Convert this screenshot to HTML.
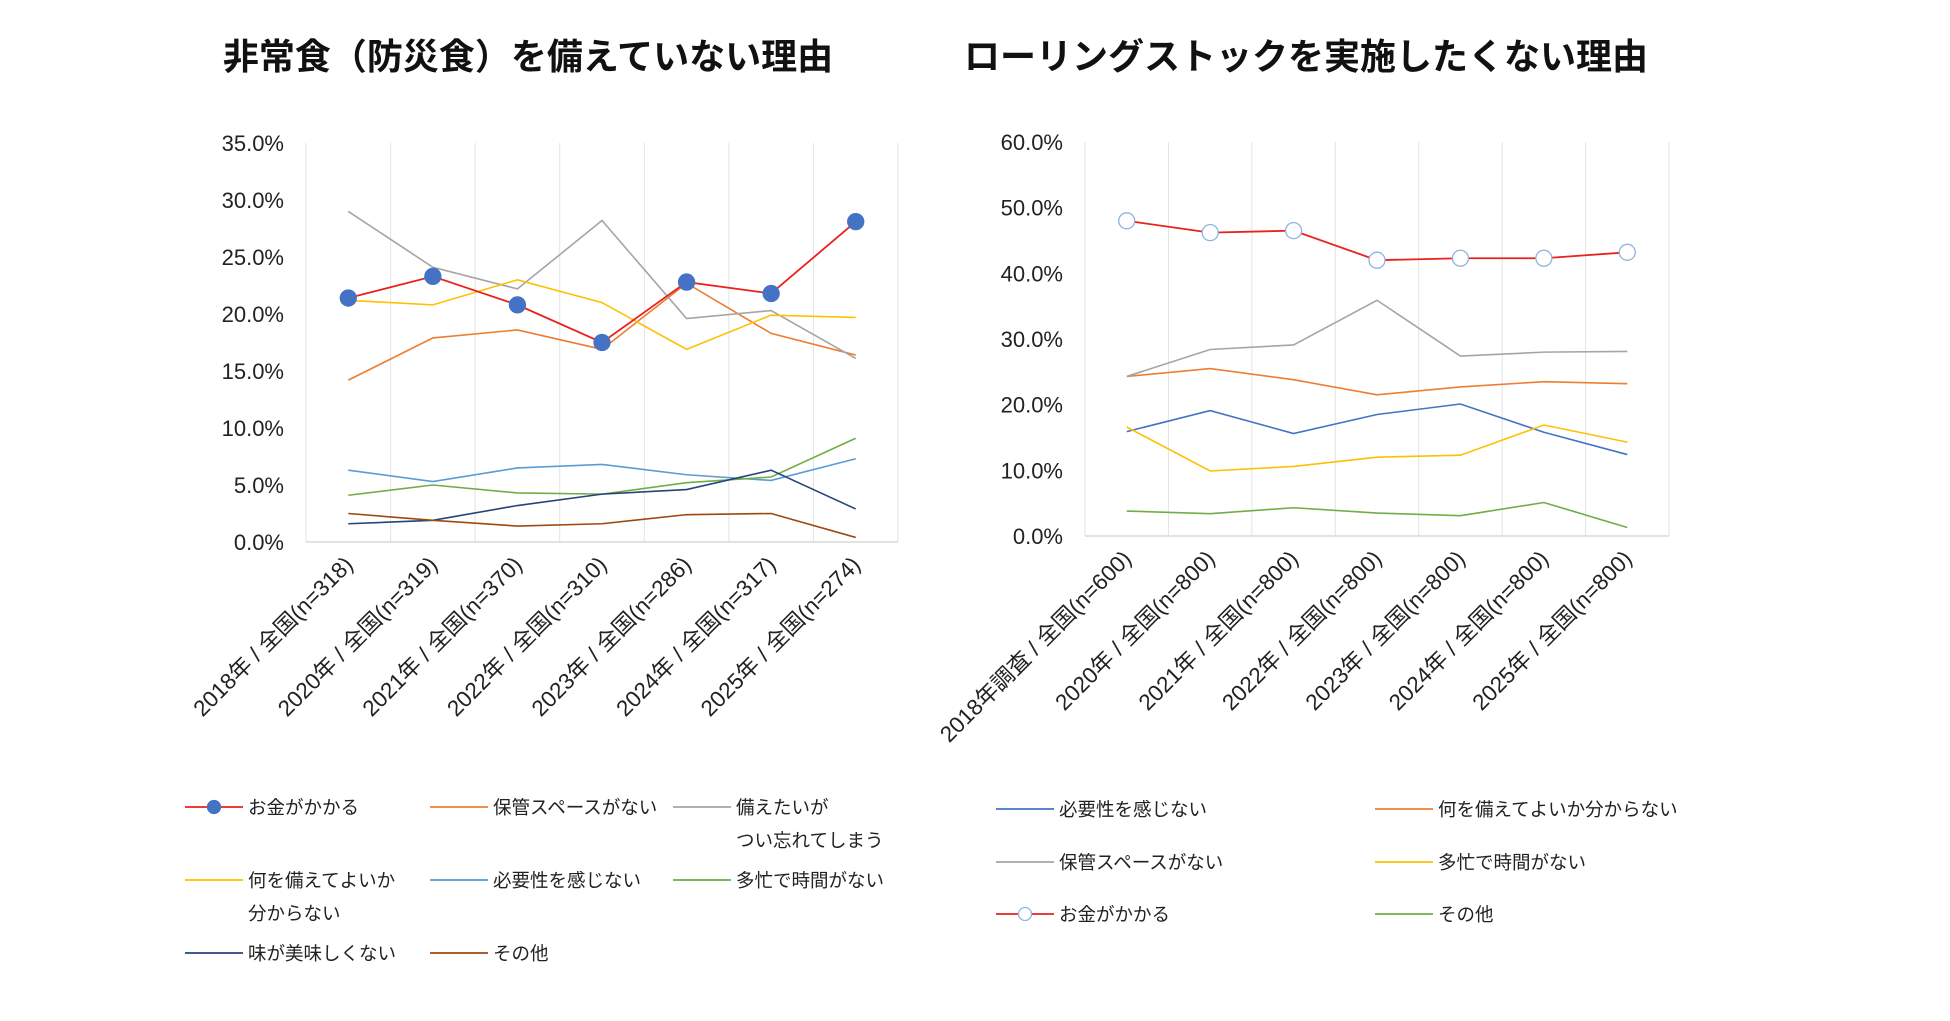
<!DOCTYPE html>
<html><head><meta charset="utf-8"><style>
body{margin:0;background:#fff;}
svg{display:block;font-family:"Liberation Sans","Noto Sans CJK JP",sans-serif;}
</style></head><body>
<svg id="s" width="1950" height="1021" viewBox="0 0 1950 1021">
<text x="528" y="69" text-anchor="middle" font-size="36" font-weight="bold" fill="#111">非常食（防災食）を備えていない理由</text>
<text x="1306" y="69" text-anchor="middle" font-size="36" font-weight="bold" fill="#111">ローリングストックを実施したくない理由</text>
<g id="L"></g>
<g id="R"></g>
</svg>
<script>
const leftCats=["2018年 / 全国(n=318)","2020年 / 全国(n=319)","2021年 / 全国(n=370)","2022年 / 全国(n=310)","2023年 / 全国(n=286)","2024年 / 全国(n=317)","2025年 / 全国(n=274)"];
const leftTicks=["0.0%","5.0%","10.0%","15.0%","20.0%","25.0%","30.0%","35.0%"];
const lOkane=[21.4,23.3,20.8,17.5,22.8,21.8,28.1];
const lHokan=[14.2,17.9,18.6,16.9,22.7,18.3,16.4];
const lWasure=[29.0,24.1,22.2,28.2,19.6,20.3,16.1];
const lNani=[21.2,20.8,23.0,21.0,16.9,19.9,19.7];
const lHitsuyo=[6.3,5.3,6.5,6.8,5.9,5.4,7.3];
const lTabo=[4.1,5.0,4.3,4.2,5.2,5.7,9.1];
const lAji=[1.6,1.9,3.2,4.2,4.6,6.3,2.9];
const lOther=[2.5,1.9,1.4,1.6,2.4,2.5,0.4];

const rightCats=["2018年調査 / 全国(n=600)","2020年 / 全国(n=800)","2021年 / 全国(n=800)","2022年 / 全国(n=800)","2023年 / 全国(n=800)","2024年 / 全国(n=800)","2025年 / 全国(n=800)"];
const rightTicks=["0.0%","10.0%","20.0%","30.0%","40.0%","50.0%","60.0%"];
const rHitsuyo=[15.9,19.1,15.6,18.5,20.1,15.8,12.4];
const rNani=[24.3,25.5,23.8,21.5,22.7,23.5,23.2];
const rHokan=[24.3,28.4,29.1,35.9,27.4,28.0,28.1];
const rTabo=[16.6,9.9,10.6,12.0,12.3,16.9,14.3];
const rOkane=[48.0,46.2,46.5,42.0,42.3,42.3,43.2];
const rOther=[3.8,3.4,4.3,3.5,3.1,5.1,1.3];

const NS="http://www.w3.org/2000/svg";
function mk(p,t,a){const e=document.createElementNS(NS,t);for(const k in a)e.setAttribute(k,a[k]);p.appendChild(e);return e;}

function chart(g,o){
  const {x0,x1,y0,y1,max,cats,ticks,series,legend}=o;
  const bw=(x1-x0)/cats.length;
  const X=i=>x0+bw*(i+0.5);
  const Y=v=>y0-(v/max)*(y0-y1);
  for(let i=0;i<=cats.length;i++){
    const gl=mk(g,'line',{x1:x0+bw*i,x2:x0+bw*i,y1:y1,y2:y0,stroke:'#e3e3e3','stroke-width':1});
    
    
  }
  const ax=mk(g,'line',{x1:x0,x2:x1,y1:y0,y2:y0,stroke:'#d9d9d9','stroke-width':1.5});
  
  
  ticks.forEach((t,i)=>{
    const v=max*i/(ticks.length-1);
    const tx=mk(g,'text',{x:x0-22,y:Y(v)+8,'text-anchor':'end','font-size':22,fill:'#222'});
    tx.textContent=t;
    
    
  });
  cats.forEach((c,i)=>{
    const cx=X(i)+6, cy=y0+24;
    const tx=mk(g,'text',{x:cx,y:cy,'text-anchor':'end','font-size':22.5,fill:'#222',transform:`rotate(-45 ${cx} ${cy})`});
    tx.textContent=c;
    
    
  });
  series.forEach(s=>{
    const pl=mk(g,'polyline',{points:s.d.map((v,i)=>X(i)+','+Y(v)).join(' '),fill:'none',stroke:s.c,'stroke-width':s.w||1.6});
    
    
    if(s.m){
      s.d.forEach((v,i)=>{
        const m=mk(g,'ellipse',{cx:X(i),cy:Y(v),rx:8,ry:8,fill:s.m.f,stroke:s.m.s,'stroke-width':1.3});
        
        
      });
    }
  });
  legend.forEach(l=>{
    const s=series.find(q=>q.id===l.id);
    const lg=mk(g,'g',{});
    
    
    mk(lg,'line',{x1:l.x,x2:l.x+58,y1:l.y,y2:l.y,stroke:s.c,'stroke-width':1.8});
    if(s.m) mk(lg,'ellipse',{cx:l.x+29,cy:l.y,rx:6.5,ry:6.5,fill:s.m.f,stroke:s.m.s,'stroke-width':1.3});
    l.t.forEach((t,k)=>{
      const tx=mk(lg,'text',{x:l.x+63,y:l.y+7+k*33,'font-size':18.5,fill:'#222'});
      tx.textContent=t;
    });
  });
}
chart(document.getElementById('L'),{x0:306,x1:898,y0:542,y1:143,max:35,cats:leftCats,ticks:leftTicks,
 series:[
  {id:'hokan',d:lHokan,c:'#ED7D31'},
  {id:'wasure',d:lWasure,c:'#A5A5A5'},
  {id:'nani',d:lNani,c:'#FFC000'},
  {id:'hitsuyo',d:lHitsuyo,c:'#5B9BD5'},
  {id:'tabo',d:lTabo,c:'#70AD47'},
  {id:'aji',d:lAji,c:'#264478'},
  {id:'other',d:lOther,c:'#9E480E'},
  {id:'okane',d:lOkane,c:'#E8221E',w:1.8,m:{f:'#4472C4',s:'#4472C4'}}
 ],
 legend:[
  {id:'okane',x:185,y:807,t:['お金がかかる']},
  {id:'hokan',x:430,y:807,t:['保管スペースがない']},
  {id:'wasure',x:673,y:807,t:['備えたいが','つい忘れてしまう']},
  {id:'nani',x:185,y:880,t:['何を備えてよいか','分からない']},
  {id:'hitsuyo',x:430,y:880,t:['必要性を感じない']},
  {id:'tabo',x:673,y:880,t:['多忙で時間がない']},
  {id:'aji',x:185,y:953,t:['味が美味しくない']},
  {id:'other',x:430,y:953,t:['その他']}
 ]});
chart(document.getElementById('R'),{x0:1085,x1:1669,y0:536,y1:142,max:60,cats:rightCats,ticks:rightTicks,
 series:[
  {id:'hitsuyo',d:rHitsuyo,c:'#4472C4'},
  {id:'nani',d:rNani,c:'#ED7D31'},
  {id:'hokan',d:rHokan,c:'#A5A5A5'},
  {id:'tabo',d:rTabo,c:'#FFC000'},
  {id:'other',d:rOther,c:'#70AD47'},
  {id:'okane',d:rOkane,c:'#E8221E',w:1.8,m:{f:'#ffffff',s:'#8FB4DE'}}
 ],
 legend:[
  {id:'hitsuyo',x:996,y:809,t:['必要性を感じない']},
  {id:'nani',x:1375,y:809,t:['何を備えてよいか分からない']},
  {id:'hokan',x:996,y:862,t:['保管スペースがない']},
  {id:'tabo',x:1375,y:862,t:['多忙で時間がない']},
  {id:'okane',x:996,y:914,t:['お金がかかる']},
  {id:'other',x:1375,y:914,t:['その他']}
 ]});
</script>
</body></html>
